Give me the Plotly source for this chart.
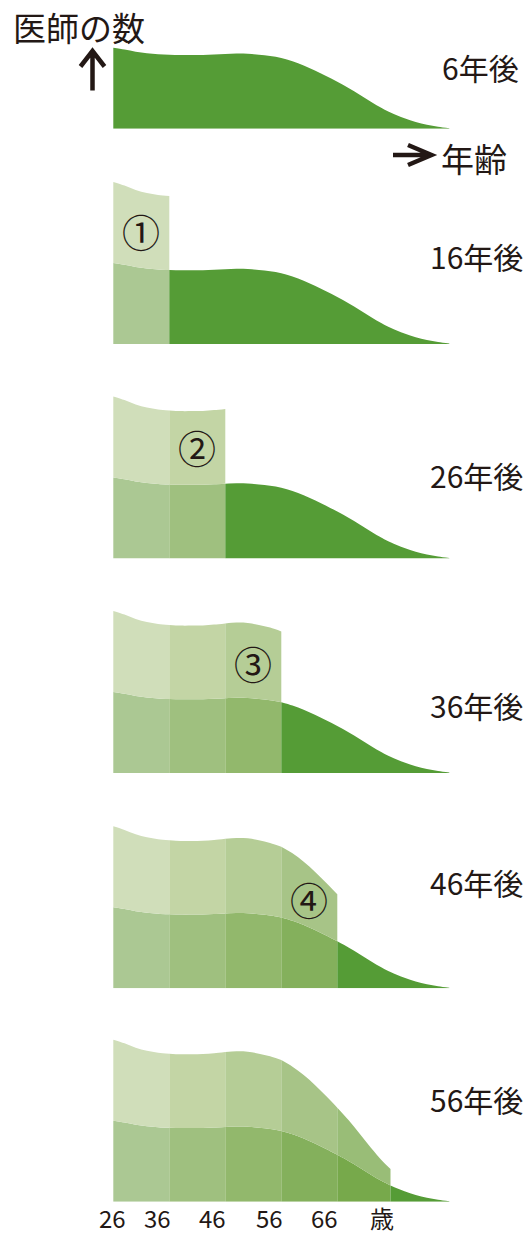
import plotly.graph_objects as go

W, H = 530, 1234

# base age distribution (doctor count by age)
ages = [26, 28, 30, 32, 34, 36, 38, 40, 42, 44, 46, 48, 50, 52, 54, 56, 58, 60,
        62, 64, 66, 68, 70, 72, 74, 75.5, 78, 80, 82, 84, 86]
base = [81, 79.2, 77, 75.5, 74.5, 74, 73.7, 73.7, 73.8, 74.2, 74.8, 75.2, 75, 74,
        72.7, 70.8, 67.5, 63.3, 58.3, 52.8, 47, 40.8, 34, 27, 20.5, 16.3, 10.5, 6.8, 4, 2, 0.5]

boundaries = [26, 36, 46, 56, 66, 75.5]
panel_labels = ["6年後", "16年後", "26年後", "36年後", "46年後", "56年後"]
circle_labels = ["①", "②", "③", "④"]
circle_heights = [114, 112, 110, 90]
tick_labels = ["26", "36", "46", "56", "66", "歳"]

dark = "#559c36"
lower_colors = ["#abc893", "#9fc07f", "#92b86c", "#84b05c", "#77a94b"]
upper_colors = ["#d0deba", "#c3d5a5", "#b5cd96", "#a7c487", "#99bd77"]
ink = "#231815"
FONT = "Noto Sans CJK JP"

# layout geometry (pixels)
baselines = [128.7, 344, 558.5, 773, 988.3, 1201.7]
panel_h = [120, 175, 175, 175, 175, 175]
label_y = [67, 256, 475, 705, 882, 1099]
label_x = [440, 428, 428, 428, 428, 428]
x_left_px, px_per_year = 113.3, 5.6
xr = [26 - x_left_px / px_per_year, 26 + (W - x_left_px) / px_per_year]
tick_pos = [25.8, 33.9, 43.7, 53.9, 63.8, 74.0]


def px(x):
    return x / W


def py(y):
    return 1 - y / H


fig = go.Figure()
layout_axes = {}
for k in range(6):
    yname = "y" if k == 0 else f"y{k + 1}"
    akey = "yaxis" if k == 0 else f"yaxis{k + 1}"
    b = baselines[k]
    layout_axes[akey] = dict(domain=[py(b), min(1, py(b - panel_h[k]))],
                             range=[0, panel_h[k]], visible=False, fixedrange=True)
    for c in range(k):
        lo, hi = boundaries[c], boundaries[c + 1]
        idx = [i for i, a in enumerate(ages) if lo <= a <= hi]
        xs = [ages[i] for i in idx]
        ys = [base[i] for i in idx]
        fig.add_trace(go.Scatter(x=xs, y=ys, xaxis="x", yaxis=yname, mode="lines",
                                 line=dict(width=0, shape="spline"), fill="tozeroy",
                                 fillcolor=lower_colors[c], hoverinfo="skip", showlegend=False))
        fig.add_trace(go.Scatter(x=xs, y=[2 * v for v in ys], xaxis="x", yaxis=yname, mode="lines",
                                 line=dict(width=0, shape="spline"), fill="tonexty",
                                 fillcolor=upper_colors[c], hoverinfo="skip", showlegend=False))
    start = boundaries[k]
    idx = [i for i, a in enumerate(ages) if a >= start]
    fig.add_trace(go.Scatter(x=[ages[i] for i in idx], y=[base[i] for i in idx],
                             xaxis="x", yaxis=yname, mode="lines",
                             line=dict(width=0, shape="spline"), fill="tozeroy",
                             fillcolor=dark, hoverinfo="skip", showlegend=False))

annotations = []
for k in range(6):
    annotations.append(dict(text=panel_labels[k], xref="paper", yref="paper",
                            x=px(label_x[k]), y=py(label_y[k]), xanchor="left", yanchor="middle",
                            showarrow=False, font=dict(family=FONT, size=30, color=ink)))
for c in range(4):
    k = c + 1
    yname = f"y{k + 1}"
    annotations.append(dict(text=circle_labels[c], xref="x", yref=yname,
                            x=(boundaries[c] + boundaries[c + 1]) / 2, y=circle_heights[c],
                            xanchor="center", yanchor="middle", showarrow=False,
                            font=dict(family=FONT, size=38, color=ink)))
for t, pos in zip(tick_labels, tick_pos):
    annotations.append(dict(text=t, xref="x", yref="paper", x=pos, y=py(1217.5),
                            xanchor="center", yanchor="middle", showarrow=False,
                            font=dict(family=FONT, size=24, color=ink)))
annotations.append(dict(text="医師の数", xref="paper", yref="paper", x=px(11), y=py(27),
                        xanchor="left", yanchor="middle", showarrow=False,
                        font=dict(family=FONT, size=33, color=ink)))
annotations.append(dict(text="年齢", xref="paper", yref="paper", x=px(439), y=py(158),
                        xanchor="left", yanchor="middle", showarrow=False,
                        font=dict(family=FONT, size=33, color=ink)))

up = (f"M {px(92.5)} {py(90.5)} L {px(92.5)} {py(52)} "
      f"M {px(80.5)} {py(66.5)} L {px(92.5)} {py(51)} L {px(104.5)} {py(66.5)}")
right = (f"M {px(393)} {py(155)} L {px(430)} {py(155)} "
         f"M {px(408)} {py(145)} L {px(431.5)} {py(155)} L {px(408)} {py(165)}")
shapes = [dict(type="path", path=up, xref="paper", yref="paper", line=dict(color=ink, width=4.5)),
          dict(type="path", path=right, xref="paper", yref="paper", line=dict(color=ink, width=4.5))]

fig.update_layout(width=W, height=H, margin=dict(l=0, r=0, t=0, b=0),
                  paper_bgcolor="white", plot_bgcolor="rgba(0,0,0,0)",
                  xaxis=dict(range=xr, domain=[0, 1], visible=False, fixedrange=True),
                  annotations=annotations, shapes=shapes, showlegend=False,
                  **layout_axes)

fig.write_html("out.html", config={"displayModeBar": False, "staticPlot": True},
               post_script="document.body.style.margin='0';")
